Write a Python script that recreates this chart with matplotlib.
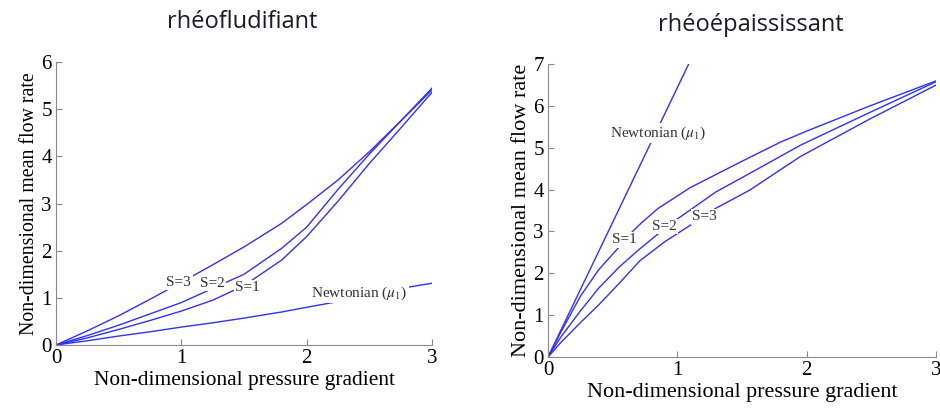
import numpy as np
import matplotlib
matplotlib.use("Agg")
from matplotlib import pyplot as plt

plt.rcParams['font.family'] = ['Liberation Serif', 'DejaVu Serif']
plt.rcParams['mathtext.fontset'] = 'stix'

# shear-thinning panel (rheofludifiant)
thin_x = [0, 0.25, 0.5, 0.75, 1.0, 1.25, 1.5, 1.8, 2.0, 2.25, 2.5, 2.75, 3.0]
thin_s3 = [0, 0.3, 0.62, 0.97, 1.33, 1.7, 2.08, 2.58, 2.98, 3.5, 4.1, 4.75, 5.45]
thin_s2 = [0, 0.2, 0.42, 0.66, 0.9, 1.2, 1.5, 2.05, 2.5, 3.3, 4.05, 4.75, 5.41]
thin_s1 = [0, 0.15, 0.33, 0.52, 0.72, 0.95, 1.26, 1.8, 2.3, 3.05, 3.85, 4.6, 5.36]
thin_newt = [0, 0.09, 0.19, 0.28, 0.38, 0.47, 0.57, 0.7, 0.8, 0.92, 1.08, 1.2, 1.31]

# shear-thickening panel (rheoepaississant)
thick_x1 = [0, 0.1, 0.25, 0.39, 0.55, 0.65, 0.72, 0.85, 1.1, 1.5, 1.8, 2.0, 2.47, 3.0]
thick_s1 = [0, 0.6, 1.45, 2.08, 2.63, 2.99, 3.2, 3.55, 4.05, 4.68, 5.14, 5.4, 5.98, 6.6]
thick_x2 = [0, 0.1, 0.25, 0.39, 0.55, 0.7, 0.85, 1.0, 1.3, 1.56, 1.95, 2.47, 3.0]
thick_s2 = [0, 0.48, 1.1, 1.64, 2.15, 2.56, 2.94, 3.3, 3.95, 4.39, 5.06, 5.82, 6.58]
thick_x3 = [0, 0.1, 0.25, 0.39, 0.55, 0.71, 0.9, 1.1, 1.3, 1.56, 1.95, 2.47, 3.0]
thick_s3 = [0, 0.35, 0.82, 1.24, 1.76, 2.3, 2.75, 3.15, 3.56, 3.99, 4.79, 5.66, 6.5]
newt_x = [0, 1.09]
newt_y = [0, 7.02]

blue = '#3030ff'
spine_col = '#8a8a8a'

fig = plt.figure(figsize=(9.4, 4.16), dpi=100)
ax1 = fig.add_axes([0.0596, 0.1707, 0.4, 0.680])
ax2 = fig.add_axes([0.583, 0.1418, 0.4128, 0.704])

label_kw = dict(fontsize=11, color='#333333', ha='center', va='center', zorder=5,
                bbox=dict(facecolor='white', edgecolor='none', pad=1.0))

# left panel
for ys in (thin_s3, thin_s2, thin_s1, thin_newt):
    ax1.plot(thin_x, ys, color=blue, lw=1)
ax1.text(0.98, 1.33, 'S=3', **label_kw)
ax1.text(1.25, 1.31, 'S=2', **label_kw)
ax1.text(1.53, 1.22, 'S=1', **label_kw)
ax1.text(2.42, 1.1, r'Newtonian ($\mu_1$)', **label_kw)
ax1.set_xlim(0, 3)
ax1.set_ylim(0, 6)
ax1.set_xticks([0, 1, 2, 3])
ax1.set_yticks(range(7))
ax1.set_xlabel('Non-dimensional pressure gradient', fontsize=15.4, labelpad=2)
ax1.set_ylabel('Non-dimensional mean flow rate', fontsize=14.3, labelpad=2)

# right panel
ax2.plot(newt_x, newt_y, color=blue, lw=1)
ax2.plot(thick_x1, thick_s1, color=blue, lw=1)
ax2.plot(thick_x2, thick_s2, color=blue, lw=1)
ax2.plot(thick_x3, thick_s3, color=blue, lw=1)
ax2.text(0.59, 2.8, 'S=1', **label_kw)
ax2.text(0.9, 3.12, 'S=2', **label_kw)
ax2.text(1.21, 3.35, 'S=3', **label_kw)
ax2.text(0.85, 5.35, r'Newtonian ($\mu_1$)', **label_kw)
ax2.set_xlim(0, 3)
ax2.set_ylim(0, 7)
ax2.set_xticks([0, 1, 2, 3])
ax2.set_yticks(range(8))
ax2.set_xlabel('Non-dimensional pressure gradient', fontsize=15.9, labelpad=2)
ax2.set_ylabel('Non-dimensional mean flow rate', fontsize=16, labelpad=2)

for ax in (ax1, ax2):
    ax.spines['top'].set_visible(False)
    ax.spines['right'].set_visible(False)
    for s in ('left', 'bottom'):
        ax.spines[s].set_color(spine_col)
    ax.tick_params(direction='in', length=4, color=spine_col, labelsize=15, pad=3)

fig.text(0.258, 0.947, 'rhéofludifiant', fontsize=17, family=['Open Sans', 'DejaVu Sans'],
         ha='center', va='center', color='#1a1a2a')
fig.text(0.799, 0.94, 'rhéoépaississant', fontsize=17, family=['Open Sans', 'DejaVu Sans'],
         ha='center', va='center', color='#1a1a2a')

fig.savefig('out.png', dpi=100)
